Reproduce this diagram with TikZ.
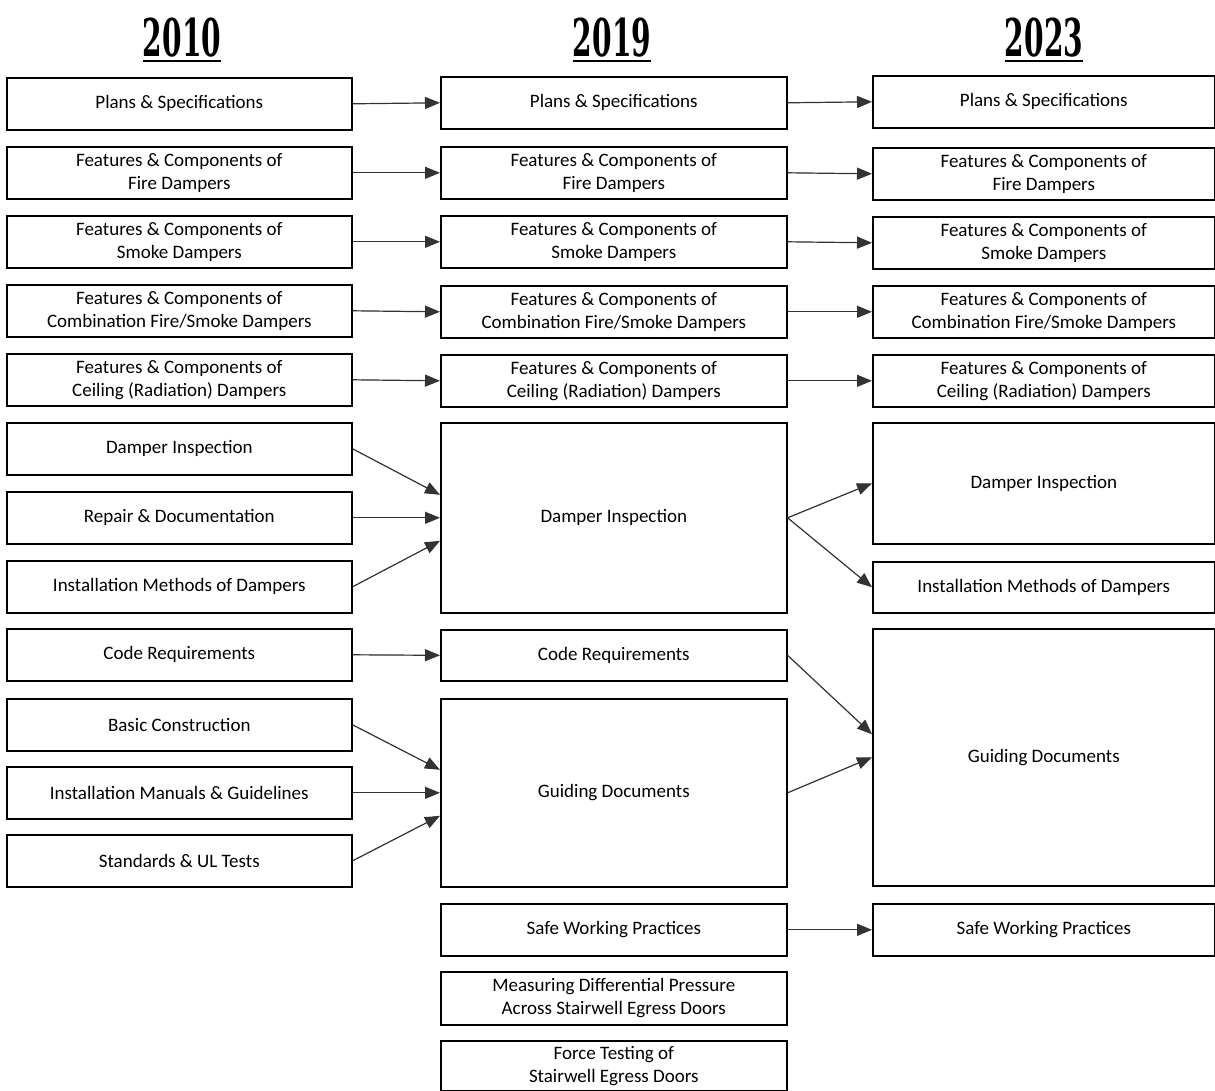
\documentclass[tikz,border=0pt]{standalone}
\usepackage{fontspec}
\setmainfont{Carlito}
\newfontfamily\yearfont[FakeStretch=0.6]{DejaVu Serif Condensed}
\usetikzlibrary{arrows.meta}

\begin{document}
\begin{tikzpicture}[x=1pt, y=-1pt,
    box/.style={draw, line width=1.6pt, anchor=north west, minimum width=345pt,
      minimum height=52pt, align=center, inner sep=0pt,
      font=\fontsize{19}{23}\selectfont},
    link/.style={-{Triangle[length=15pt,width=12pt]}, line width=1.2pt, draw=black!80, fill=black},
    year/.style={anchor=base, inner sep=0pt, font=\yearfont\bfseries\fontsize{52}{56}\selectfont}]
  \useasboundingbox (0,0) rectangle (1215,1091);

  \node[year] (y2010) at (182,57) {2010};
  \node[year] (y2019) at (612,57) {2019};
  \node[year] (y2023) at (1044,57) {2023};
  \foreach \y in {y2010,y2019,y2023}
    \draw[line width=2.4pt] ([yshift=-4pt]\y.base west) -- ([yshift=-4pt]\y.base east);

  % 2010
  \node[box] (a1) at (6,77) {Plans \& Specifications};
  \node[box] (a2) at (6,146) {Features \& Components of\\Fire Dampers};
  \node[box] (a3) at (6,215) {Features \& Components of\\Smoke Dampers};
  \node[box] (a4) at (6,284) {Features \& Components of\\Combination Fire/Smoke Dampers};
  \node[box] (a5) at (6,353) {Features \& Components of\\Ceiling (Radiation) Dampers};
  \node[box] (a6) at (6,422) {Damper Inspection};
  \node[box] (a7) at (6,491) {Repair \& Documentation};
  \node[box] (a8) at (6,560) {Installation Methods of Dampers};
  \node[box] (a9) at (6,628) {Code Requirements};
  \node[box] (a10) at (6,698) {Basic Construction};
  \node[box] (a11) at (6,766) {Installation Manuals \& Guidelines};
  \node[box] (a12) at (6,834) {Standards \& UL Tests};

  % 2019
  \node[box, minimum width=346pt] (b1) at (440,76) {Plans \& Specifications};
  \node[box, minimum width=346pt] (b2) at (440,146) {Features \& Components of\\Fire Dampers};
  \node[box, minimum width=346pt] (b3) at (440,215) {Features \& Components of\\Smoke Dampers};
  \node[box, minimum width=346pt] (b4) at (440,285) {Features \& Components of\\Combination Fire/Smoke Dampers};
  \node[box, minimum width=346pt] (b5) at (440,354) {Features \& Components of\\Ceiling (Radiation) Dampers};
  \node[box, minimum width=346pt, minimum height=190pt] (b6) at (440,422) {Damper Inspection};
  \node[box, minimum width=346pt, minimum height=51pt] (b7) at (440,629) {Code Requirements};
  \node[box, minimum width=346pt, minimum height=188pt] (b8) at (440,698) {Guiding Documents};
  \node[box, minimum width=346pt] (b9) at (440,903) {Safe Working Practices};
  \node[box, minimum width=346pt, minimum height=53pt] (b10) at (440,971) {Measuring Differential Pressure\\Across Stairwell Egress Doors};
  \node[box, minimum width=346pt, minimum height=50pt] (b11) at (440,1040) {Force Testing of\\Stairwell Egress Doors};

  % 2023
  \node[box, minimum width=342pt] (c1) at (872,75) {Plans \& Specifications};
  \node[box, minimum width=342pt] (c2) at (872,147) {Features \& Components of\\Fire Dampers};
  \node[box, minimum width=342pt] (c3) at (872,216) {Features \& Components of\\Smoke Dampers};
  \node[box, minimum width=342pt] (c4) at (872,285) {Features \& Components of\\Combination Fire/Smoke Dampers};
  \node[box, minimum width=342pt] (c5) at (872,354) {Features \& Components of\\Ceiling (Radiation) Dampers};
  \node[box, minimum width=342pt, minimum height=121pt] (c6) at (872,422) {Damper Inspection};
  \node[box, minimum width=342pt, minimum height=51pt] (c7) at (872,561) {Installation Methods of Dampers};
  \node[box, minimum width=342pt, minimum height=257pt] (c8) at (872,628) {Guiding Documents};
  \node[box, minimum width=342pt] (c9) at (872,903) {Safe Working Practices};

  \foreach \i in {1,...,5}{
    \draw[link] (a\i.east) -- (b\i.west);
    \draw[link] (b\i.east) -- (c\i.west);
  }
  \draw[link] (a6.east) -- ([yshift=23pt]b6.west);
  \draw[link] (a7.east) -- (b6.west);
  \draw[link] (a8.east) -- ([yshift=-23pt]b6.west);
  \draw[link] (a9.east) -- (b7.west);
  \draw[link] (a10.east) -- ([yshift=23pt]b8.west);
  \draw[link] (a11.east) -- (b8.west);
  \draw[link] (a12.east) -- ([yshift=-23pt]b8.west);
  \draw[link] (b6.east) -- (c6.west);
  \draw[link] (b6.east) -- (c7.west);
  \draw[link] (b7.east) -- ([yshift=23pt]c8.west);
  \draw[link] (b8.east) -- (c8.west);
  \draw[link] (b9.east) -- (c9.west);
\end{tikzpicture}
\end{document}
